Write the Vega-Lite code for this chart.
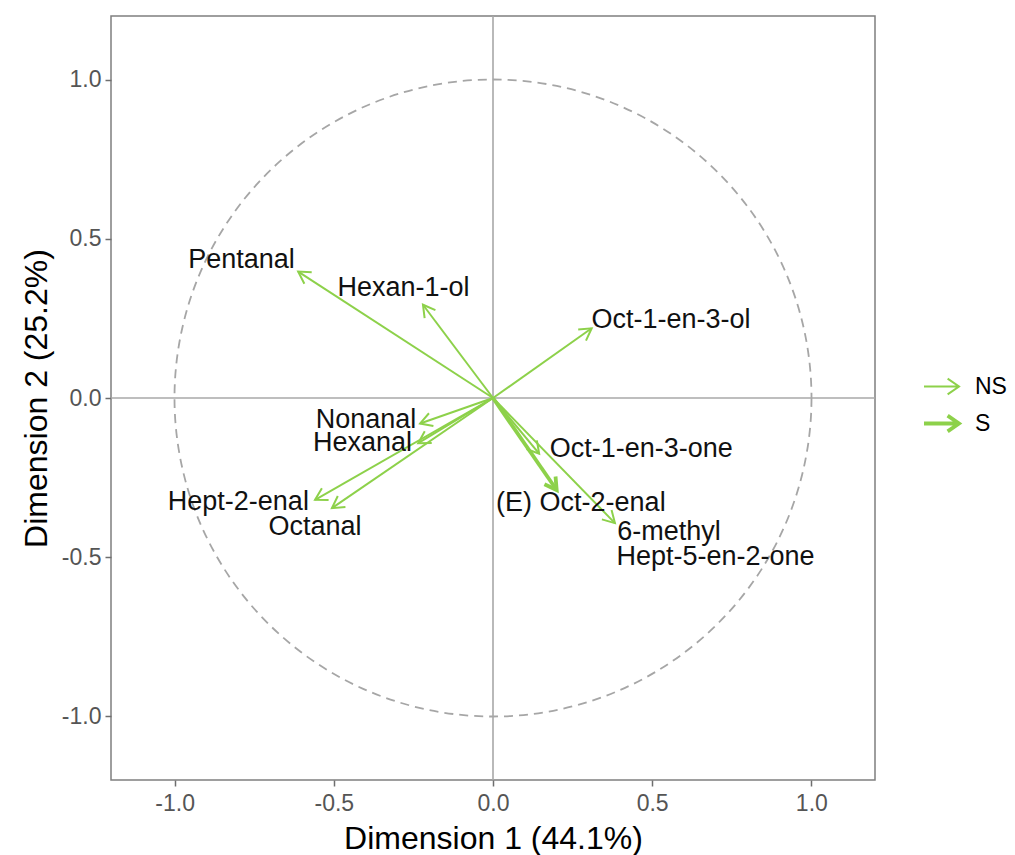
{
  "$schema": "https://vega.github.io/schema/vega-lite/v6.json",
  "width": 764,
  "height": 764,
  "autosize": {"type": "none"},
  "padding": {"left": 111, "top": 16, "right": 140, "bottom": 75},
  "background": "white",
  "datasets": {
    "arrows": [
      {"var": "Pentanal", "x": -0.612, "y": 0.397, "sig": "NS"},
      {"var": "Hexan-1-ol", "x": -0.22, "y": 0.293, "sig": "NS"},
      {"var": "Oct-1-en-3-ol", "x": 0.31, "y": 0.219, "sig": "NS"},
      {"var": "Nonanal", "x": -0.229, "y": -0.08, "sig": "NS"},
      {"var": "Hexanal", "x": -0.235, "y": -0.142, "sig": "NS"},
      {"var": "Hept-2-enal", "x": -0.559, "y": -0.32, "sig": "NS"},
      {"var": "Octanal", "x": -0.506, "y": -0.346, "sig": "NS"},
      {"var": "Oct-1-en-3-one", "x": 0.145, "y": -0.175, "sig": "NS"},
      {"var": "(E) Oct-2-enal", "x": 0.2, "y": -0.289, "sig": "S"},
      {"var": "6-methyl Hept-5-en-2-one", "x": 0.383, "y": -0.393, "sig": "NS"}
    ],
    "labels": [
      {"label": "Pentanal", "lx": -0.79, "ly": 0.434},
      {"label": "Hexan-1-ol", "lx": -0.281, "ly": 0.346},
      {"label": "Oct-1-en-3-ol", "lx": 0.559, "ly": 0.245},
      {"label": "Nonanal", "lx": -0.399, "ly": -0.07},
      {"label": "Hexanal", "lx": -0.41, "ly": -0.141},
      {"label": "Hept-2-enal", "lx": -0.8, "ly": -0.327},
      {"label": "Octanal", "lx": -0.559, "ly": -0.405},
      {"label": "Oct-1-en-3-one", "lx": 0.466, "ly": -0.16},
      {"label": "(E) Oct-2-enal", "lx": 0.276, "ly": -0.33},
      {"label": "6-methyl", "lx": 0.553, "ly": -0.421},
      {"label": "Hept-5-en-2-one", "lx": 0.699, "ly": -0.5}
    ]
  },
  "layer": [
    {
      "data": {"values": [{"c": 0}]},
      "mark": {"type": "point", "shape": "circle", "size": 405769, "filled": false, "stroke": "#a6a6a6", "strokeWidth": 1.8, "strokeDash": [9, 6], "opacity": 1},
      "encoding": {
        "x": {"datum": 0, "type": "quantitative", "scale": {"domain": [-1.2, 1.2], "nice": false, "zero": false}, "axis": {"title": "Dimension 1 (44.1%)", "values": [-1, -0.5, 0, 0.5, 1], "format": ".1f", "labelExpr": "replace(datum.label, '\u2212', '-')"}},
        "y": {"datum": 0, "type": "quantitative", "scale": {"domain": [-1.2, 1.2], "nice": false, "zero": false}, "axis": {"title": "Dimension 2 (25.2%)", "values": [-1, -0.5, 0, 0.5, 1], "format": ".1f", "labelExpr": "replace(datum.label, '\u2212', '-')"}}
      }
    },
    {
      "data": {"values": [{"c": 0}]},
      "mark": {"type": "rule", "color": "#a8a8a8", "strokeWidth": 1.6},
      "encoding": {"x": {"datum": 0, "type": "quantitative"}}
    },
    {
      "data": {"values": [{"c": 0}]},
      "mark": {"type": "rule", "color": "#a8a8a8", "strokeWidth": 1.6},
      "encoding": {"y": {"datum": 0, "type": "quantitative"}}
    },
    {
      "data": {"name": "arrows"},
      "mark": {"type": "rule", "color": "#8dd14a"},
      "encoding": {
        "x": {"field": "x", "type": "quantitative", "axis": {"title": "Dimension 1 (44.1%)", "values": [-1, -0.5, 0, 0.5, 1], "format": ".1f", "labelExpr": "replace(datum.label, '\u2212', '-')"}},
        "x2": {"datum": 0},
        "y": {"field": "y", "type": "quantitative", "axis": {"title": "Dimension 2 (25.2%)", "values": [-1, -0.5, 0, 0.5, 1], "format": ".1f", "labelExpr": "replace(datum.label, '\u2212', '-')"}},
        "y2": {"datum": 0},
        "strokeWidth": {
          "field": "sig", "type": "nominal",
          "scale": {"domain": ["NS", "S"], "range": [2, 3.8]},
          "legend": {
            "title": null,
            "orient": "none",
            "legendX": 811,
            "legendY": 352,
            "symbolType": "M-1,0L1,0M0.35,-0.45L1,0L0.35,0.45",
            "symbolSize": 1225,
            "symbolStrokeColor": "#8dd14a",
            "symbolFillColor": "transparent",
            "labelFont": "Liberation Sans",
            "labelFontSize": 23,
            "labelColor": "#000000",
            "labelOffset": 14,
            "rowPadding": 5
          }
        }
      }
    },
    {
      "data": {"name": "arrows"},
      "transform": [{"calculate": "atan2(datum.x, datum.y) * 180 / PI", "as": "ang"}],
      "mark": {"type": "point", "shape": "M-0.5,0.87L0,0L0.5,0.87", "size": 729, "filled": false, "stroke": "#8dd14a", "opacity": 1},
      "encoding": {
        "x": {"field": "x", "type": "quantitative"},
        "y": {"field": "y", "type": "quantitative"},
        "angle": {"field": "ang", "type": "quantitative", "scale": null},
        "strokeWidth": {"field": "sig", "type": "nominal", "scale": {"domain": ["NS", "S"], "range": [2, 3.8]}, "legend": null}
      }
    },
    {
      "data": {"name": "labels"},
      "mark": {"type": "text", "font": "Liberation Sans", "fontSize": 27, "color": "#111111", "align": "center", "baseline": "middle"},
      "encoding": {
        "x": {"field": "lx", "type": "quantitative"},
        "y": {"field": "ly", "type": "quantitative"},
        "text": {"field": "label", "type": "nominal"}
      }
    }
  ],
  "resolve": {"scale": {"strokeWidth": "independent"}, "legend": {"strokeWidth": "independent"}},
  "config": {
    "view": {"stroke": "#7f7f7f", "strokeWidth": 1.5},
    "axis": {
      "grid": false,
      "domain": false,
      "ticks": true,
      "tickSize": 6,
      "tickWidth": 1.5,
      "tickColor": "#6e6e6e",
      "labelFont": "Liberation Sans",
      "labelFontSize": 23,
      "labelColor": "#555555",
      "titleFont": "Liberation Sans",
      "titleFontSize": 32,
      "titleFontWeight": "normal",
      "titleColor": "#000000"
    },
    "axisX": {"labelPadding": 6, "titlePadding": 8},
    "axisY": {"labelPadding": 4, "titlePadding": 8}
  }
}
